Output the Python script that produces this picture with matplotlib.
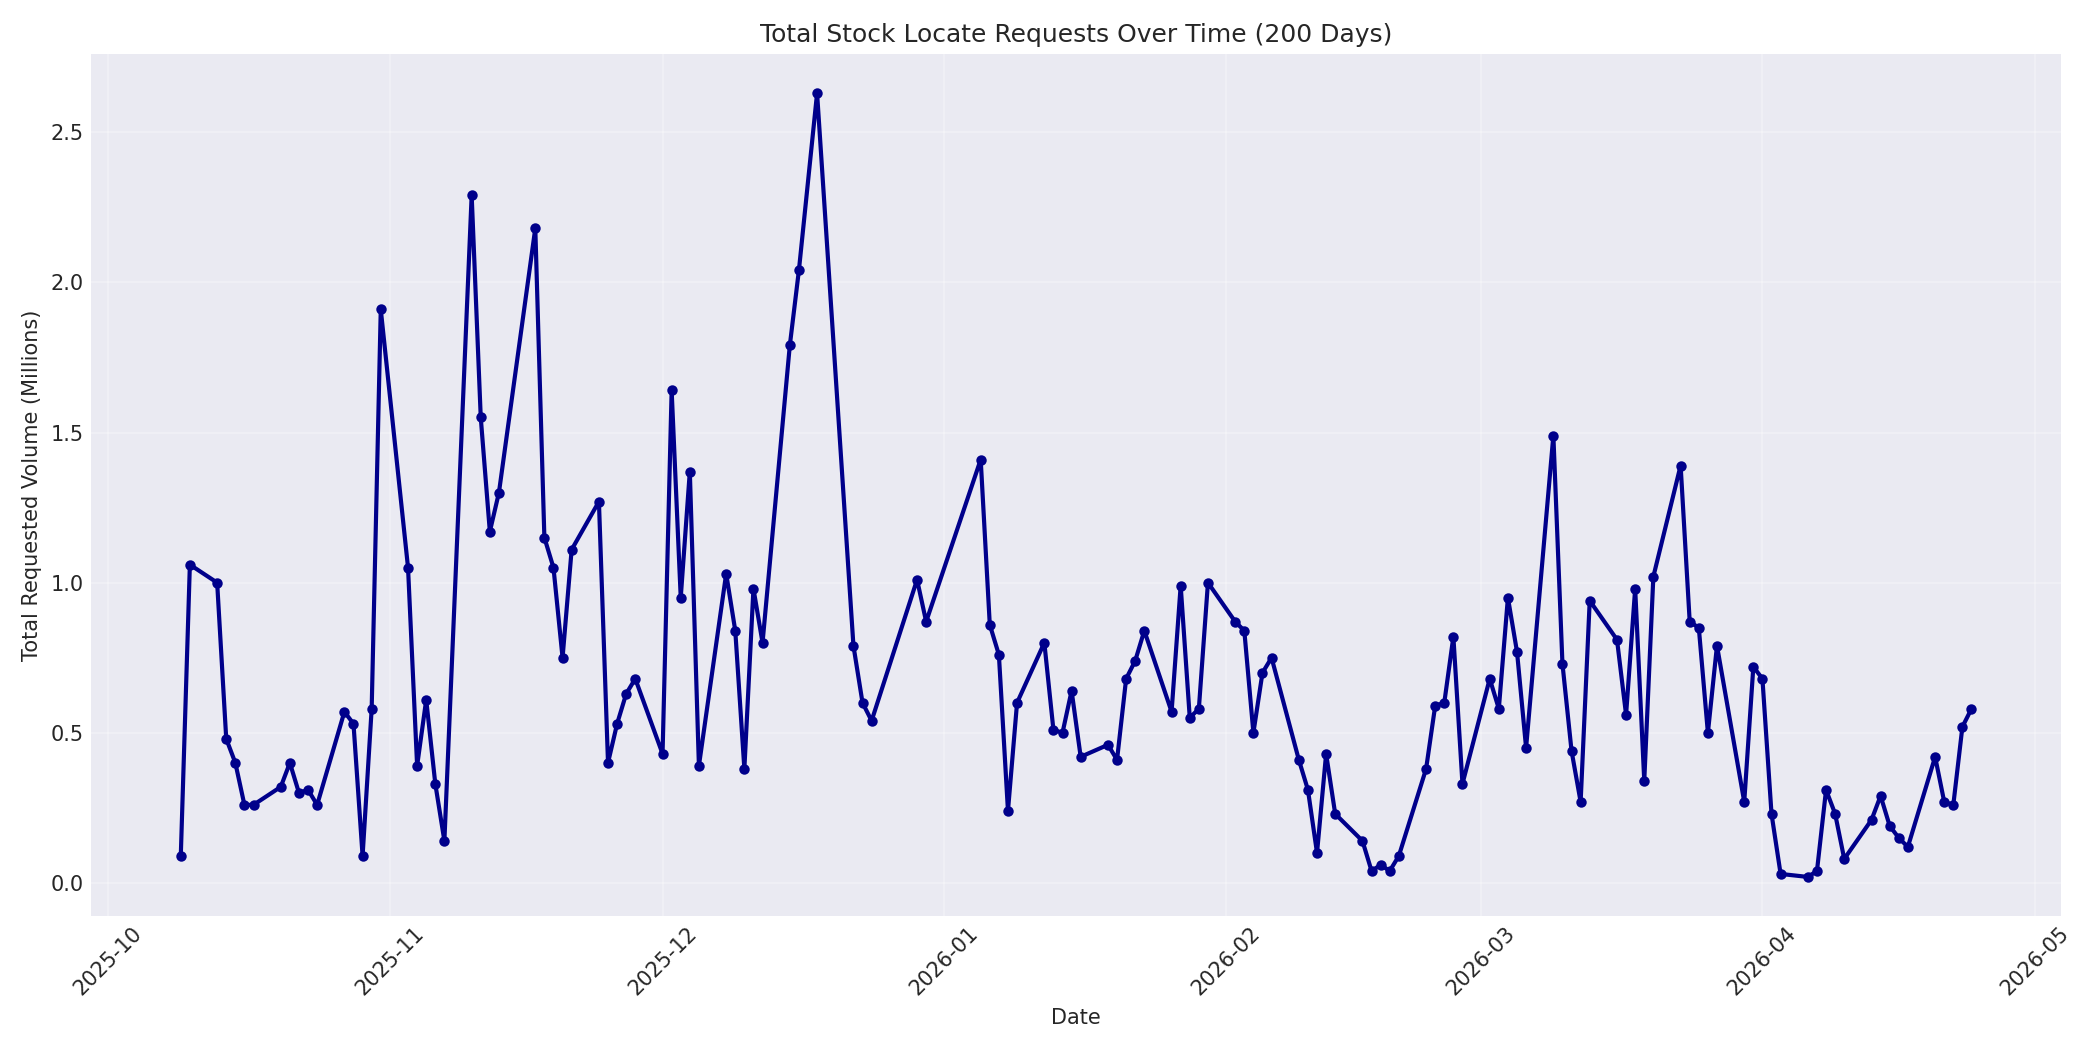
import pandas as pd
import matplotlib
matplotlib.use("Agg")
import matplotlib.pyplot as plt
import matplotlib.dates as mdates

plt.style.use("seaborn-v0_8-darkgrid")
plt.rcParams['font.family'] = ['DejaVu Sans']

dates = [
    "2025-10-09", "2025-10-10", "2025-10-13", "2025-10-14", "2025-10-15", "2025-10-16", "2025-10-17",
    "2025-10-20", "2025-10-21", "2025-10-22", "2025-10-23", "2025-10-24",
    "2025-10-27", "2025-10-28", "2025-10-29", "2025-10-30", "2025-10-31",
    "2025-11-03", "2025-11-04", "2025-11-05", "2025-11-06", "2025-11-07",
    "2025-11-10", "2025-11-11", "2025-11-12", "2025-11-13",
    "2025-11-17", "2025-11-18", "2025-11-19", "2025-11-20", "2025-11-21",
    "2025-11-24", "2025-11-25", "2025-11-26", "2025-11-27", "2025-11-28",
    "2025-12-01", "2025-12-02", "2025-12-03", "2025-12-04", "2025-12-05",
    "2025-12-08", "2025-12-09", "2025-12-10", "2025-12-11", "2025-12-12",
    "2025-12-15", "2025-12-16", "2025-12-18",
    "2025-12-22", "2025-12-23", "2025-12-24",
    "2025-12-29", "2025-12-30",
    "2026-01-05", "2026-01-06", "2026-01-07", "2026-01-08", "2026-01-09",
    "2026-01-12", "2026-01-13", "2026-01-14", "2026-01-15", "2026-01-16",
    "2026-01-19", "2026-01-20", "2026-01-21", "2026-01-22", "2026-01-23",
    "2026-01-26", "2026-01-27", "2026-01-28", "2026-01-29", "2026-01-30",
    "2026-02-02", "2026-02-03", "2026-02-04", "2026-02-05", "2026-02-06",
    "2026-02-09", "2026-02-10", "2026-02-11", "2026-02-12", "2026-02-13",
    "2026-02-16", "2026-02-17", "2026-02-18", "2026-02-19", "2026-02-20",
    "2026-02-23", "2026-02-24", "2026-02-25", "2026-02-26", "2026-02-27",
    "2026-03-02", "2026-03-03", "2026-03-04", "2026-03-05", "2026-03-06",
    "2026-03-09", "2026-03-10", "2026-03-11", "2026-03-12", "2026-03-13",
    "2026-03-16", "2026-03-17", "2026-03-18", "2026-03-19", "2026-03-20",
    "2026-03-23", "2026-03-24", "2026-03-25", "2026-03-26", "2026-03-27",
    "2026-03-30", "2026-03-31", "2026-04-01", "2026-04-02", "2026-04-03",
    "2026-04-06", "2026-04-07", "2026-04-08", "2026-04-09", "2026-04-10",
    "2026-04-13", "2026-04-14", "2026-04-15", "2026-04-16", "2026-04-17",
    "2026-04-20", "2026-04-21", "2026-04-22", "2026-04-23", "2026-04-24",
]
volume_millions = [
    0.09, 1.06, 1.00, 0.48, 0.40, 0.26, 0.26,
    0.32, 0.40, 0.30, 0.31, 0.26,
    0.57, 0.53, 0.09, 0.58, 1.91,
    1.05, 0.39, 0.61, 0.33, 0.14,
    2.29, 1.55, 1.17, 1.30,
    2.18, 1.15, 1.05, 0.75, 1.11,
    1.27, 0.40, 0.53, 0.63, 0.68,
    0.43, 1.64, 0.95, 1.37, 0.39,
    1.03, 0.84, 0.38, 0.98, 0.80,
    1.79, 2.04, 2.63,
    0.79, 0.60, 0.54,
    1.01, 0.87,
    1.41, 0.86, 0.76, 0.24, 0.60,
    0.80, 0.51, 0.50, 0.64, 0.42,
    0.46, 0.41, 0.68, 0.74, 0.84,
    0.57, 0.99, 0.55, 0.58, 1.00,
    0.87, 0.84, 0.50, 0.70, 0.75,
    0.41, 0.31, 0.10, 0.43, 0.23,
    0.14, 0.04, 0.06, 0.04, 0.09,
    0.38, 0.59, 0.60, 0.82, 0.33,
    0.68, 0.58, 0.95, 0.77, 0.45,
    1.49, 0.73, 0.44, 0.27, 0.94,
    0.81, 0.56, 0.98, 0.34, 1.02,
    1.39, 0.87, 0.85, 0.50, 0.79,
    0.27, 0.72, 0.68, 0.23, 0.03,
    0.02, 0.04, 0.31, 0.23, 0.08,
    0.21, 0.29, 0.19, 0.15, 0.12,
    0.42, 0.27, 0.26, 0.52, 0.58,
]

x = pd.to_datetime(dates)

fig, ax = plt.subplots(figsize=(14, 7), dpi=150)
ax.plot(x, volume_millions, color="darkblue", linewidth=2, marker="o", markersize=4)
ax.set_title("Total Stock Locate Requests Over Time (200 Days)", fontsize=12)
ax.set_xlabel("Date", fontsize=10)
ax.set_ylabel("Total Requested Volume (Millions)", fontsize=10)
ax.xaxis.set_major_locator(mdates.MonthLocator())
ax.xaxis.set_major_formatter(mdates.DateFormatter("%Y-%m"))
ax.tick_params(labelsize=10)
ax.grid(True, alpha=0.3)
plt.setp(ax.get_xticklabels(), rotation=45)
fig.tight_layout()
fig.savefig("out.png")
